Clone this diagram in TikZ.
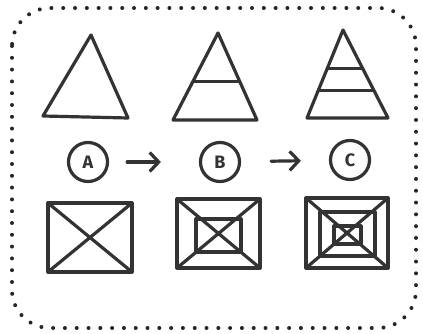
\documentclass[tikz,border=0pt]{standalone}
\usepackage{fontspec}
\setsansfont{Fira Sans}
\usetikzlibrary{arrows.meta,calc}
\tikzset{
  pen/.style={draw=black!80, line width=3.2pt, line cap=round, line join=round},
  stage/.style={circle, pen, minimum size=39pt, inner sep=0pt, font=\sffamily\bfseries\fontsize{18}{18}\selectfont, text=black!80},
  flow/.style={pen, -{Straight Barb[length=9pt,width=19pt]}},
  frame/.style={draw=black!85, line width=4pt, line cap=round, dash pattern=on 0pt off 11.8pt, rounded corners=38pt}
}

\begin{document}
\begin{tikzpicture}[x=1pt, y=-1pt]
  \useasboundingbox (0,0) rectangle (423,334);
  \draw[frame] (12,8) rectangle (416,328);

  % triangles
  \coordinate (t1a) at (91,35);  \coordinate (t1l) at (43,116);  \coordinate (t1r) at (128,118);
  \coordinate (t2a) at (218,33); \coordinate (t2l) at (173,120); \coordinate (t2r) at (257,120);
  \coordinate (t3a) at (343,30); \coordinate (t3l) at (307,118); \coordinate (t3r) at (388,118);
  \draw[pen] (t1a) -- (t1l) -- (t1r) -- cycle;
  \draw[pen] (t2a) -- (t2l) -- (t2r) -- cycle;
  \draw[pen] (t3a) -- (t3l) -- (t3r) -- cycle;
  \draw[pen] ($(t2a)!.56!(t2l)$) -- ($(t2a)!.56!(t2r)$);
  \draw[pen] ($(t3a)!.44!(t3l)$) -- ($(t3a)!.44!(t3r)$);
  \draw[pen] ($(t3a)!.69!(t3l)$) -- ($(t3a)!.69!(t3r)$);

  % stages
  \node[stage] (A) at (88,162) {A};
  \node[stage] (B) at (220,162) {B};
  \node[stage] (C) at (350,160) {C};
  \draw[flow, shorten <=18pt, shorten >=38pt] (A) -- (B);
  \draw[flow, shorten <=30pt, shorten >=28pt] (B) -- (C);

  % squares
  \draw[pen] (48,203) rectangle (132,272);
  \draw[pen] (48,203) -- (132,272) (132,203) -- (48,272);

  \draw[pen] (177,199) rectangle (260,268);
  \draw[pen] (196,219) rectangle (241,252);
  \draw[pen] (177,199) -- (260,268) (260,199) -- (177,268);

  \draw[pen] (306,198) rectangle (388,268);
  \draw[pen] (320,212) rectangle (375,256);
  \draw[pen] (334,226) rectangle (361,244);
  \draw[pen] (306,198) -- (388,268) (388,198) -- (306,268);
\end{tikzpicture}
\end{document}
